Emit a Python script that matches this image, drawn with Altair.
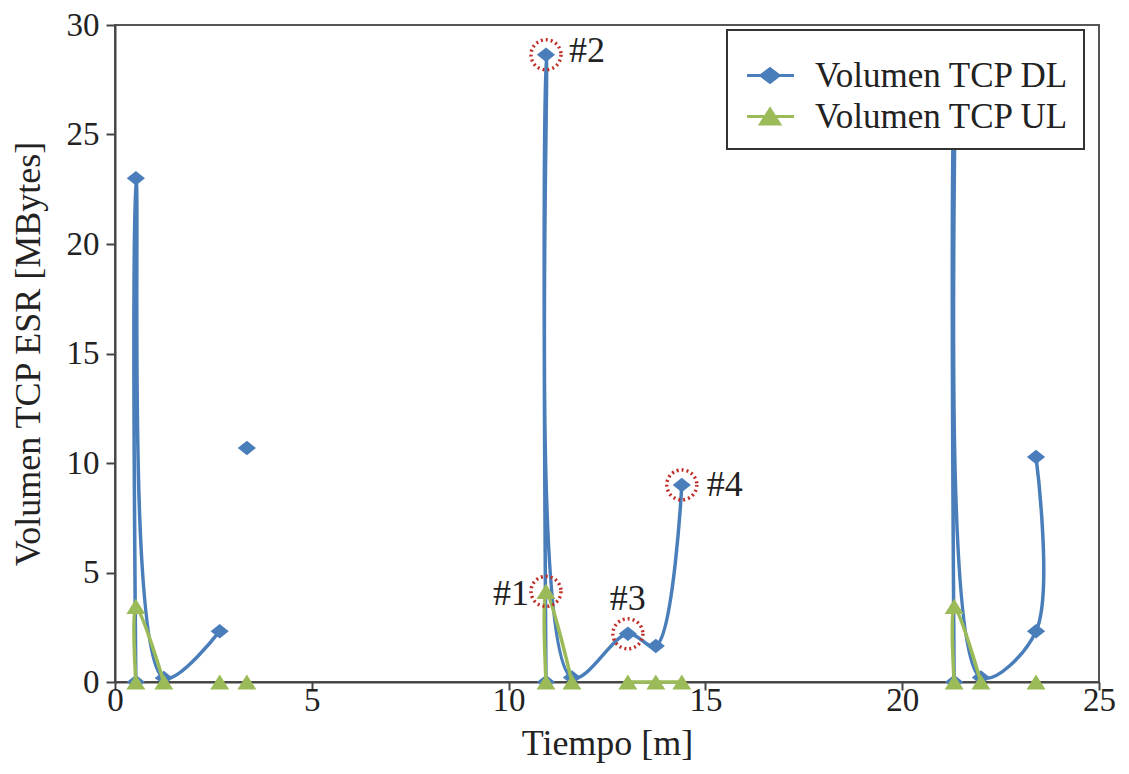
import altair as alt
import pandas as pd

series_names = ["Volumen TCP DL", "Volumen TCP UL"]
series_colors = ["#4a7ebb", "#9bbb59"]

# Download series (gaps between groups)
dl_t = [0.53, 0.53, 1.24, 2.66, 3.35, 10.95, 10.95, 11.61, 13.03, 13.74, 14.40, 21.32, 21.32, 22.00, 23.40, 23.40]
dl_v = [0.0, 23.0, 0.18, 2.32, 10.68, 0.0, 28.64, 0.20, 2.20, 1.64, 9.00, 0.0, 27.5, 0.20, 2.32, 10.27]
dl_seg = [1, 1, 1, 1, 2, 3, 3, 3, 3, 3, 3, 4, 4, 4, 4, 4]

# Upload series
ul_t = [0.53, 0.53, 1.24, 2.66, 3.35, 10.95, 10.95, 11.61, 13.03, 13.74, 14.40, 21.32, 21.32, 22.00, 23.40]
ul_v = [0.0, 3.45, 0.0, 0.0, 0.0, 0.0, 4.14, 0.0, 0.0, 0.0, 0.0, 0.0, 3.45, 0.0, 0.0]
ul_seg = [1, 1, 1, 2, 3, 4, 4, 4, 5, 5, 5, 6, 6, 6, 7]

# Annotated points
ann_t = [10.95, 10.95, 13.03, 14.40]
ann_v = [4.14, 28.64, 2.20, 9.00]
ann_label = ["#1", "#2", "#3", "#4"]

rows = []
for i, (t, v, s) in enumerate(zip(dl_t, dl_v, dl_seg)):
    rows.append({"t": t, "v": v, "series": series_names[0], "key": f"DL{s}", "idx": i})
for i, (t, v, s) in enumerate(zip(ul_t, ul_v, ul_seg)):
    rows.append({"t": t, "v": v, "series": series_names[1], "key": f"UL{s}", "idx": i})
df = pd.DataFrame(rows)
ann = pd.DataFrame({"t": ann_t, "v": ann_v, "label": ann_label})

FONT = "Liberation Serif"
x_enc = alt.X("t:Q", scale=alt.Scale(domain=[0, 25], nice=False),
              axis=alt.Axis(values=[0, 5, 10, 15, 20, 25], title="Tiempo [m]", labelFlush=False,
                            tickSize=8, labelPadding=-6, titlePadding=9))
y_enc = alt.Y("v:Q", scale=alt.Scale(domain=[0, 30], nice=False),
              axis=alt.Axis(values=[0, 5, 10, 15, 20, 25, 30], title="Volumen TCP ESR [MBytes]",
                            labelFlush=False, tickSize=9, labelPadding=7, titlePadding=19))
marker_paths = ["M-1,0L0,-0.8L1,0L0,0.8Z", "M-1,0.8L0,-0.8L1,0.8Z"]
marker_sizes = [330, 361]
legend_paths = ["M-0.79,0H2.45M0.175,0L0.795,-0.48L1.415,0L0.795,0.48Z",
                "M-0.79,0H2.45M0.14,0.52L0.795,-0.52L1.45,0.52Z"]

base = alt.Chart(df)
layers = []
for k, name in enumerate(series_names):
    sub = base.transform_filter(alt.datum.series == name)
    line = sub.mark_line(interpolate="catmull-rom", strokeWidth=3.5, color=series_colors[k]).encode(
        x=x_enc, y=y_enc, detail="key:N", order="idx:Q")
    pts = sub.mark_point(filled=True, opacity=1, shape=marker_paths[k], size=marker_sizes[k],
                         color=series_colors[k]).encode(x=x_enc, y=y_enc)
    layers += [line, pts]

# invisible layer that only provides the legend (line + marker symbols)
legend = alt.Legend(
    orient="none", legendX=612, legendY=5, title=" ",
    titleFontSize=8, titlePadding=6,
    labelFont=FONT, labelFontSize=35, labelColor="#222", labelLimit=600,
    labelOffset=39, padding=14, rowPadding=5,
    strokeColor="#333", fillColor="white",
    symbolSize=841, symbolStrokeWidth=3, symbolOpacity=1,
)
leg_layer = base.mark_point(filled=True, opacity=0, size=841, strokeWidth=3).encode(
    x=x_enc, y=y_enc,
    fill=alt.Fill("series:N", scale=alt.Scale(domain=series_names, range=series_colors), legend=legend),
    stroke=alt.Stroke("series:N", scale=alt.Scale(domain=series_names, range=series_colors), legend=legend),
    shape=alt.Shape("series:N", scale=alt.Scale(domain=series_names, range=legend_paths), legend=legend),
)

abase = alt.Chart(ann)
circles = abase.mark_point(shape="circle", size=900, filled=False, color="#c0302a",
                           strokeWidth=3.5, strokeDash=[2, 3], opacity=1).encode(x=x_enc, y=y_enc)
txt_kw = dict(font=FONT, fontSize=36, color="#222", baseline="middle")
t1 = abase.transform_filter(alt.datum.label == "#1").mark_text(align="right", dx=-17, dy=3, **txt_kw).encode(
    x=x_enc, y=y_enc, text="label:N")
t2 = abase.transform_filter(alt.datum.label == "#2").mark_text(align="left", dx=23, dy=-4, **txt_kw).encode(
    x=x_enc, y=y_enc, text="label:N")
t3 = abase.transform_filter(alt.datum.label == "#3").mark_text(align="center", dy=-35, **txt_kw).encode(
    x=x_enc, y=y_enc, text="label:N")
t4 = abase.transform_filter(alt.datum.label == "#4").mark_text(align="left", dx=25, **txt_kw).encode(
    x=x_enc, y=y_enc, text="label:N")

chart = alt.layer(leg_layer, *layers, circles, t1, t2, t3, t4).properties(
    width=984, height=657, autosize="none",
    padding={"left": 107, "top": 17, "right": 22, "bottom": 82},
).configure_axis(
    labelFont=FONT, labelFontSize=33, labelColor="#222",
    titleFont=FONT, titleFontSize=36, titleFontWeight="normal", titleColor="#222",
    domainColor="#444", domainWidth=2, tickColor="#444", tickWidth=2, grid=False,
).configure_view(stroke="#555", strokeWidth=2).configure_legend(strokeWidth=2)

chart.save("out.html", embed_options={"renderer": "svg", "actions": False})
